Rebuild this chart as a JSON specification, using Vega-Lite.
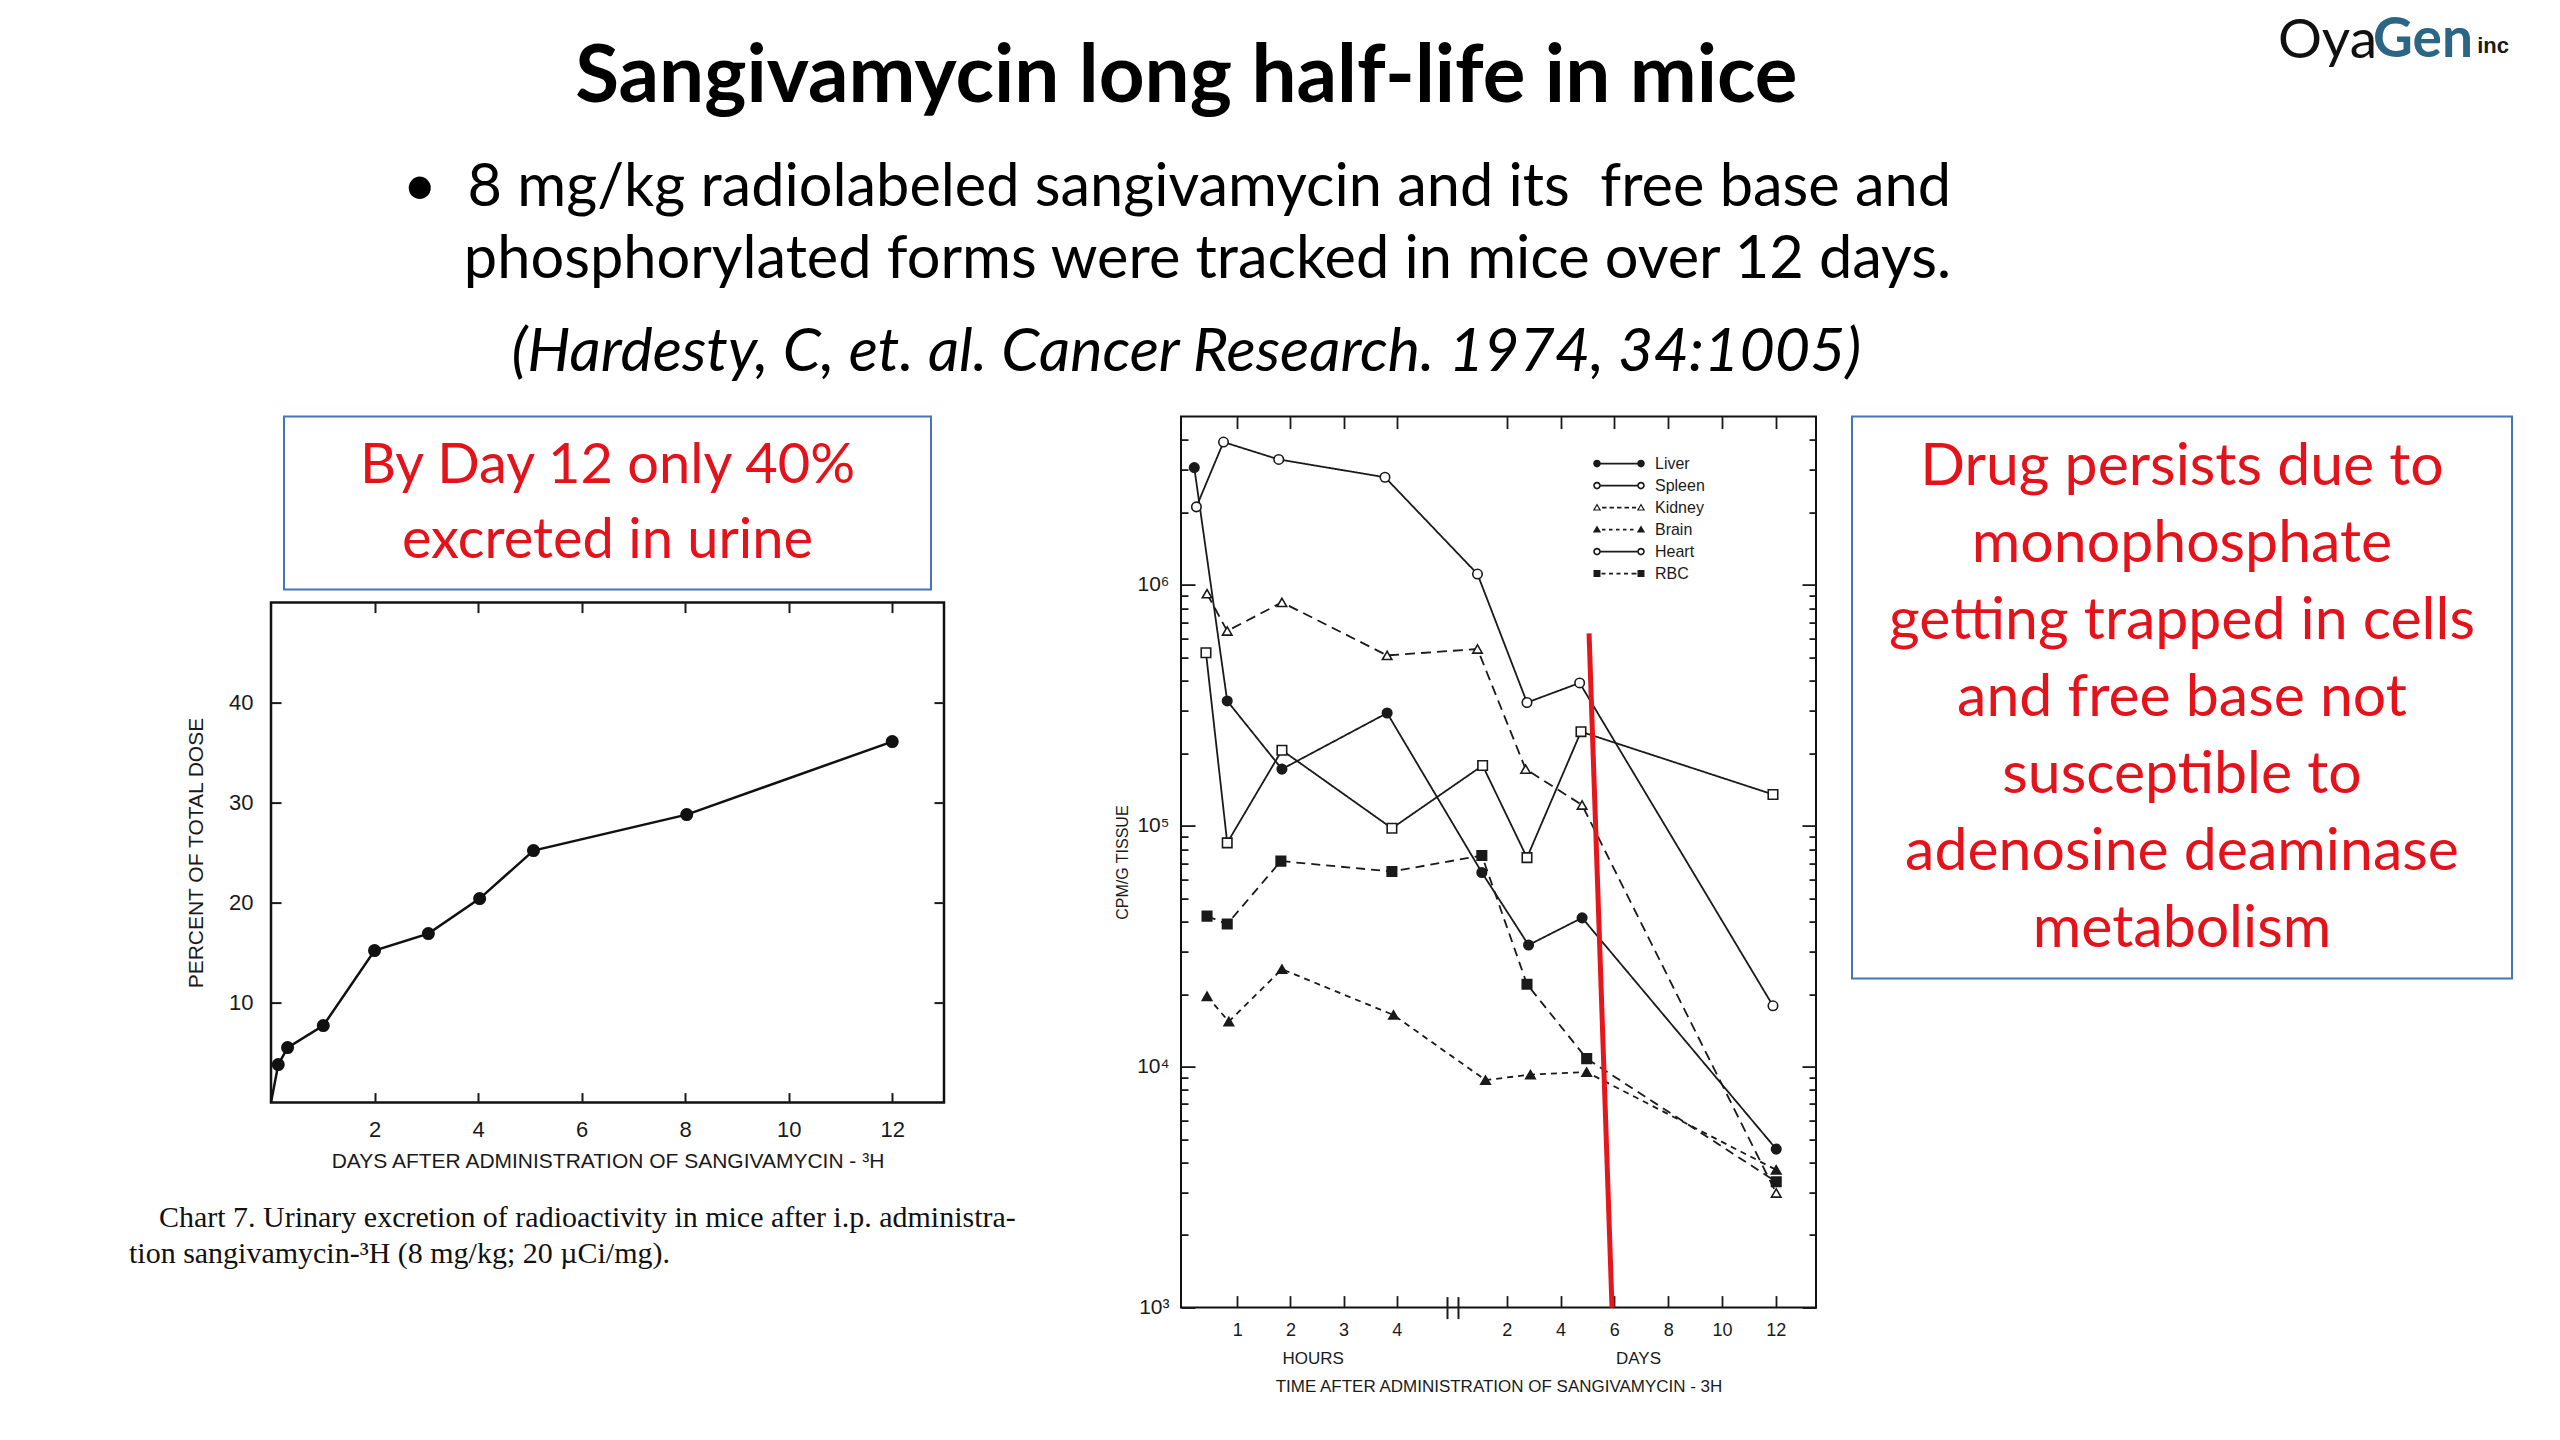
{
  "$schema": "https://vega.github.io/schema/vega-lite/v6.json",
  "background": "white",
  "padding": {"left": 127, "top": 12.6, "right": 30, "bottom": 30},
  "config": {
    "view": {"stroke": null},
    "font": "Lato",
    "axis": {"grid": false, "domain": false, "labelFont": "Liberation Sans", "titleFont": "Liberation Sans", "titleFontWeight": "normal", "labelColor": "#1a1a1a", "titleColor": "#1a1a1a", "tickColor": "#1a1a1a", "labelFlush": false, "labelOverlap": false},
    "title": {"font": "Lato", "color": "#000000", "fontWeight": "normal"}
  },
  "datasets": {
    "urine": [
      {"day": 0, "pct": 0},
      {"day": 0.14, "pct": 3.8},
      {"day": 0.32, "pct": 5.5},
      {"day": 1.01, "pct": 7.7},
      {"day": 2.0, "pct": 15.2},
      {"day": 3.04, "pct": 16.9},
      {"day": 4.03, "pct": 20.4},
      {"day": 5.07, "pct": 25.2},
      {"day": 8.03, "pct": 28.8},
      {"day": 12.0, "pct": 36.1}
    ],
    "tissue": [
      {"organ": "Liver", "hours": 0.19, "cpm": 3070000},
      {"organ": "Liver", "hours": 0.81, "cpm": 330000},
      {"organ": "Liver", "hours": 1.84, "cpm": 172000},
      {"organ": "Liver", "hours": 3.82, "cpm": 294000},
      {"organ": "Liver", "hours": 25.7, "cpm": 64000},
      {"organ": "Liver", "hours": 67.4, "cpm": 32000},
      {"organ": "Liver", "hours": 115.2, "cpm": 41500},
      {"organ": "Liver", "hours": 288.5, "cpm": 4550},
      {"organ": "Spleen", "hours": 0.23, "cpm": 2110000},
      {"organ": "Spleen", "hours": 0.74, "cpm": 3920000},
      {"organ": "Spleen", "hours": 1.78, "cpm": 3320000},
      {"organ": "Spleen", "hours": 3.78, "cpm": 2800000},
      {"organ": "Spleen", "hours": 21.8, "cpm": 1110000},
      {"organ": "Spleen", "hours": 66, "cpm": 325000},
      {"organ": "Spleen", "hours": 113, "cpm": 392000},
      {"organ": "Spleen", "hours": 285.6, "cpm": 17900},
      {"organ": "Kidney", "hours": 0.43, "cpm": 920000},
      {"organ": "Kidney", "hours": 0.81, "cpm": 644000},
      {"organ": "Kidney", "hours": 1.84, "cpm": 847000},
      {"organ": "Kidney", "hours": 3.82, "cpm": 510000},
      {"organ": "Kidney", "hours": 21.8, "cpm": 542000},
      {"organ": "Kidney", "hours": 64.8, "cpm": 172000},
      {"organ": "Kidney", "hours": 115.2, "cpm": 122000},
      {"organ": "Kidney", "hours": 288.5, "cpm": 2990},
      {"organ": "Brain", "hours": 0.43, "cpm": 19600},
      {"organ": "Brain", "hours": 0.84, "cpm": 15400},
      {"organ": "Brain", "hours": 1.84, "cpm": 25400},
      {"organ": "Brain", "hours": 3.94, "cpm": 16400},
      {"organ": "Brain", "hours": 29, "cpm": 8800},
      {"organ": "Brain", "hours": 69.1, "cpm": 9270},
      {"organ": "Brain", "hours": 119.3, "cpm": 9500},
      {"organ": "Brain", "hours": 288.5, "cpm": 3730},
      {"organ": "Heart", "hours": 0.41, "cpm": 523000},
      {"organ": "Heart", "hours": 0.81, "cpm": 85000},
      {"organ": "Heart", "hours": 1.84, "cpm": 206000},
      {"organ": "Heart", "hours": 3.91, "cpm": 97700},
      {"organ": "Heart", "hours": 26.4, "cpm": 178000},
      {"organ": "Heart", "hours": 66, "cpm": 73800},
      {"organ": "Heart", "hours": 114.2, "cpm": 246000},
      {"organ": "Heart", "hours": 285.6, "cpm": 135000},
      {"organ": "RBC", "hours": 0.43, "cpm": 42200},
      {"organ": "RBC", "hours": 0.81, "cpm": 39100},
      {"organ": "RBC", "hours": 1.82, "cpm": 71400},
      {"organ": "RBC", "hours": 3.91, "cpm": 64600},
      {"organ": "RBC", "hours": 25.7, "cpm": 75300},
      {"organ": "RBC", "hours": 66, "cpm": 22000},
      {"organ": "RBC", "hours": 119.3, "cpm": 10800},
      {"organ": "RBC", "hours": 288.5, "cpm": 3330}
    ],
    "redline": [
      {"h1": 121.4, "v1": 630000, "h2": 141.9, "v2": 1000}
    ]
  },
  "title": {"text": "inc", "orient": "top", "anchor": "end", "frame": "bounds", "dx": -4, "offset": -44.4, "fontSize": 22, "fontWeight": "bold", "font": "Liberation Sans", "color": "#1a1a1a"},
  "vconcat": [{
    "title": {"text": "Gen", "orient": "top", "anchor": "end", "frame": "bounds", "dx": -40, "offset": -55, "fontSize": 55, "fontWeight": "bold", "font": "Lato", "color": "#2b6784"},
    "vconcat": [{
      "title": {"text": "Oya", "orient": "top", "anchor": "end", "frame": "bounds", "dx": -136, "offset": -32.5, "fontSize": 55, "fontWeight": "normal", "font": "Lato", "color": "#111111"},
      "vconcat": [{
        "title": {"text": "Sangivamycin long half-life in mice", "orient": "top", "anchor": "middle", "frame": "bounds", "dx": -134, "offset": 39.4, "fontSize": 80, "fontWeight": "bold", "font": "Lato", "color": "#000000"},
        "vconcat": [{
          "title": {"text": ["•\u00a0\u00a08 mg/kg radiolabeled sangivamycin and its\u00a0 free base and", "phosphorylated forms were tracked in mice over 12 days."], "orient": "top", "anchor": "end", "align": "right", "frame": "bounds", "dx": -562, "offset": 31.5, "fontSize": 59.5, "lineHeight": 72, "font": "Lato", "color": "#000000"},
          "vconcat": [{
            "title": {"text": "(Hardesty, C, et. al. Cancer Research. 1974, 34:1005)", "orient": "top", "anchor": "middle", "frame": "bounds", "dx": -134, "offset": 30.5, "fontSize": 61, "fontStyle": "italic", "font": "Lato", "color": "#000000"},
            "hconcat": [
              {
                "vconcat": [
                  {
                    "width": 647,
                    "height": 173,
                    "view": {"stroke": "#4a72b8", "strokeWidth": 2},
                    "data": {"values": [{}]},
                    "mark": {"type": "text", "text": ["By Day 12 only 40%", "excreted in urine"], "font": "Lato", "fontSize": 56, "lineHeight": 75, "dy": -37.5, "color": "#e3121b", "align": "center", "baseline": "middle"}
                  },
                  {
                    "width": 673,
                    "height": 500,
                    "view": {"stroke": "#111111", "strokeWidth": 2.5},
                    "title": {"text": ["\u200b\u00a0\u00a0\u00a0\u00a0Chart 7. Urinary excretion of radioactivity in mice after i.p. administra-", "tion sangivamycin-³H (8 mg/kg; 20 µCi/mg)."], "orient": "bottom", "anchor": "start", "align": "left", "frame": "group", "dx": -142, "offset": 31, "font": "Liberation Serif", "fontSize": 30, "lineHeight": 36, "fontWeight": "normal", "color": "#111111"},
                    "data": {"name": "urine"},
                    "layer": [
                      {
                        "mark": {"type": "line", "color": "#111111", "strokeWidth": 2.5},
                        "encoding": {
                          "x": {"field": "day", "type": "quantitative", "scale": {"domain": [0, 13], "nice": false, "zero": false},
                                "axis": {"orient": "bottom", "values": [2, 4, 6, 8, 10, 12], "tickSize": -10, "tickWidth": 2, "labelFontSize": 22, "labelPadding": 27, "title": "DAYS AFTER ADMINISTRATION OF SANGIVAMYCIN - ³H", "titleFontSize": 21, "titlePadding": 10}},
                          "y": {"field": "pct", "type": "quantitative", "scale": {"domain": [0, 50], "nice": false},
                                "axis": {"orient": "left", "values": [10, 20, 30, 40], "tickSize": -10, "tickWidth": 2, "labelFontSize": 22, "labelPadding": 28, "title": "PERCENT OF TOTAL DOSE", "titleFontSize": 21, "titlePadding": 22}}
                        }
                      },
                      {
                        "transform": [{"filter": "datum.pct > 0"}],
                        "mark": {"type": "point", "filled": true, "color": "#111111", "size": 170, "opacity": 1},
                        "encoding": {
                          "x": {"field": "day", "type": "quantitative", "axis": {"orient": "top", "values": [2, 4, 6, 8, 10, 12], "tickSize": -10, "tickWidth": 2, "labels": false, "title": null}},
                          "y": {"field": "pct", "type": "quantitative", "axis": {"orient": "right", "values": [10, 20, 30, 40], "tickSize": -10, "tickWidth": 2, "labels": false, "title": null}}
                        }
                      }
                    ],
                    "resolve": {"axis": {"x": "independent", "y": "independent"}}
                  }
                ],
                "spacing": 13,
                "bounds": "flush",
                "center": true
              },
              {
                "hconcat": [
                  {
                    "width": 635,
                    "height": 891,
                    "view": {"stroke": "#111111", "strokeWidth": 2},
                    "layer": [
                      {
                        "data": {"name": "tissue"},
                        "mark": {"type": "line", "color": "#1a1a1a", "strokeWidth": 1.8},
                        "encoding": {
                          "x": {"field": "hours", "type": "quantitative",
                                "scale": {"type": "linear", "domain": [-0.06, 5.06, 12, 324], "range": [0, 272, 285.5, 635], "nice": false, "zero": false},
                                "axis": {"orient": "bottom", "values": [1, 2, 3, 4, 48, 96, 144, 192, 240, 288], "labelExpr": "datum.value < 24 ? datum.value : datum.value / 24", "tickSize": -12, "tickWidth": 1.8, "labelFontSize": 18, "labelPadding": 26, "title": null}},
                          "y": {"field": "cpm", "type": "quantitative",
                                "scale": {"type": "log", "domain": [1000, 5000000], "nice": false},
                                "axis": {"orient": "left", "values": [1000, 2000, 3000, 4000, 5000, 6000, 7000, 8000, 9000, 10000, 20000, 30000, 40000, 50000, 60000, 70000, 80000, 90000, 100000, 200000, 300000, 400000, 500000, 600000, 700000, 800000, 900000, 1000000, 2000000, 3000000, 4000000],
                                         "labelExpr": "datum.value == 1000 ? '10³' : datum.value == 10000 ? '10⁴' : datum.value == 100000 ? '10⁵' : datum.value == 1000000 ? '10⁶' : ''",
                                         "tickSize": {"condition": {"test": "indexof([1000, 10000, 100000, 1000000], datum.value) >= 0", "value": -14}, "value": -7},
                                         "tickWidth": 1.8, "labelFontSize": 21, "labelPadding": 26, "title": "CPM/G TISSUE", "titleFontSize": 16, "titlePadding": 6}},
                          "strokeDash": {"field": "organ", "type": "nominal", "scale": {"domain": ["Liver", "Spleen", "Kidney", "Brain", "Heart", "RBC"], "range": [[1, 0], [1, 0], [10, 6], [6, 5], [1, 0], [9, 6]]}, "legend": null}
                        }
                      },
                      {
                        "data": {"name": "tissue"},
                        "mark": {"type": "point", "stroke": "#1a1a1a", "strokeWidth": 1.6, "size": 90, "opacity": 1},
                        "encoding": {
                          "x": {"field": "hours", "type": "quantitative", "axis": {"orient": "top", "values": [1, 2, 3, 4, 48, 96, 144, 192, 240, 288], "tickSize": -12, "tickWidth": 1.8, "labels": false, "title": null}},
                          "y": {"field": "cpm", "type": "quantitative", "axis": {"orient": "right", "values": [1000, 2000, 3000, 4000, 5000, 6000, 7000, 8000, 9000, 10000, 20000, 30000, 40000, 50000, 60000, 70000, 80000, 90000, 100000, 200000, 300000, 400000, 500000, 600000, 700000, 800000, 900000, 1000000, 2000000, 3000000, 4000000],
                                "tickSize": {"condition": {"test": "indexof([1000, 10000, 100000, 1000000], datum.value) >= 0", "value": -14}, "value": -7}, "tickWidth": 1.8, "labels": false, "title": null}},
                          "shape": {"field": "organ", "type": "nominal", "scale": {"domain": ["Liver", "Spleen", "Kidney", "Brain", "Heart", "RBC"], "range": ["circle", "circle", "triangle-up", "triangle-up", "square", "square"]}, "legend": null},
                          "fill": {"field": "organ", "type": "nominal", "scale": {"domain": ["Liver", "Spleen", "Kidney", "Brain", "Heart", "RBC"], "range": ["#1a1a1a", "#ffffff", "#ffffff", "#1a1a1a", "#ffffff", "#1a1a1a"]}, "legend": null}
                        }
                      },
                      {
                        "data": {"name": "redline"},
                        "mark": {"type": "rule", "color": "#e5171c", "strokeWidth": 5},
                        "encoding": {
                          "x": {"field": "h1", "type": "quantitative", "axis": {"orient": "bottom", "values": [2.42, 165.1], "labelExpr": "datum.value < 24 ? 'HOURS' : 'DAYS'", "ticks": false, "labelPadding": 43, "labelFontSize": 17, "title": "TIME AFTER ADMINISTRATION OF SANGIVAMYCIN - 3H", "titleFontSize": 17, "titlePadding": 12}},
                          "x2": {"field": "h2"},
                          "y": {"field": "v1", "type": "quantitative", "axis": null},
                          "y2": {"field": "v2"}
                        }
                      },
                      {
                        "data": {"name": "tissue"},
                        "transform": [{"filter": "datum.cpm < 0"}],
                        "mark": {"type": "point", "filled": true, "color": "#1a1a1a", "strokeWidth": 0, "opacity": 1},
                        "encoding": {
                          "x": {"field": "hours", "type": "quantitative", "axis": {"orient": "bottom", "values": [4.95, 7.63], "tickSize": 11, "tickWidth": 2, "labels": false, "title": null}},
                          "y": {"field": "cpm", "type": "quantitative", "axis": null},
                          "shape": {"field": "organ", "type": "nominal",
                                    "scale": {"domain": ["Liver", "Spleen", "Kidney", "Brain", "Heart", "RBC"],
                                              "range": [
                                                "M-1.85,-0.08H1.85V0.08H-1.85ZM-2.58,0A0.38,0.38 0 1,1 -1.82,0A0.38,0.38 0 1,1 -2.58,0ZM1.82,0A0.38,0.38 0 1,1 2.58,0A0.38,0.38 0 1,1 1.82,0Z",
                                                "M-1.85,-0.08H1.85V0.08H-1.85ZM-2.58,0A0.38,0.38 0 1,1 -1.82,0A0.38,0.38 0 1,1 -2.58,0ZM-2.42,0A0.22,0.22 0 1,0 -1.98,0A0.22,0.22 0 1,0 -2.42,0ZM1.82,0A0.38,0.38 0 1,1 2.58,0A0.38,0.38 0 1,1 1.82,0ZM1.98,0A0.22,0.22 0 1,0 2.42,0A0.22,0.22 0 1,0 1.98,0Z",
                                                "M-1.7,-0.08H-1.25V0.08H-1.7ZM-0.95,-0.08H-0.5V0.08H-0.95ZM-0.2,-0.08H0.25V0.08H-0.2ZM0.55,-0.08H1.0V0.08H0.55ZM1.3,-0.08H1.7V0.08H1.3ZM-2.62,0.3L-2.2,-0.42L-1.78,0.3ZM-2.41,0.18L-1.99,0.18L-2.2,-0.18ZM1.78,0.3L2.2,-0.42L2.62,0.3ZM1.99,0.18L2.41,0.18L2.2,-0.18Z",
                                                "M-1.7,-0.08H-1.35V0.08H-1.7ZM-1.0,-0.08H-0.65V0.08H-1.0ZM-0.3,-0.08H0.05V0.08H-0.3ZM0.4,-0.08H0.75V0.08H0.4ZM1.1,-0.08H1.45V0.08H1.1ZM-2.62,0.3L-2.2,-0.42L-1.78,0.3ZM1.78,0.3L2.2,-0.42L2.62,0.3Z",
                                                "M-1.85,-0.08H1.85V0.08H-1.85ZM-2.58,0A0.38,0.38 0 1,1 -1.82,0A0.38,0.38 0 1,1 -2.58,0ZM-2.42,0A0.22,0.22 0 1,0 -1.98,0A0.22,0.22 0 1,0 -2.42,0ZM1.82,0A0.38,0.38 0 1,1 2.58,0A0.38,0.38 0 1,1 1.82,0ZM1.98,0A0.22,0.22 0 1,0 2.42,0A0.22,0.22 0 1,0 1.98,0Z",
                                                "M-1.75,-0.08H-1.35V0.08H-1.75ZM-1.0,-0.08H-0.6V0.08H-1.0ZM-0.25,-0.08H0.15V0.08H-0.25ZM0.5,-0.08H0.9V0.08H0.5ZM1.25,-0.08H1.75V0.08H1.25ZM-2.55,-0.35H-1.85V0.35H-2.55ZM1.85,-0.35H2.55V0.35H1.85Z"
                                              ]},
                                    "legend": {"orient": "none", "legendX": 428, "legendY": 37, "title": null, "symbolSize": 400, "labelOffset": 26, "labelFont": "Liberation Sans", "labelFontSize": 16, "labelColor": "#1a1a1a", "rowPadding": 4, "padding": 0, "symbolFillColor": "#1a1a1a", "symbolStrokeWidth": 0, "symbolOpacity": 1}}
                        }
                      },
                      {
                        "data": {"name": "tissue"},
                        "transform": [{"filter": "datum.cpm < 0"}],
                        "mark": {"type": "point", "opacity": 0},
                        "encoding": {
                          "x": {"field": "hours", "type": "quantitative", "axis": {"orient": "bottom", "values": [4.95, 7.63], "tickSize": -11, "tickWidth": 2, "labels": false, "title": null}},
                          "y": {"field": "cpm", "type": "quantitative", "axis": null}
                        }
                      }
                    ],
                    "resolve": {"scale": {"shape": "independent", "fill": "independent"}, "axis": {"x": "independent", "y": "independent"}}
                  },
                  {
                    "width": 660,
                    "height": 562,
                    "view": {"stroke": "#4a72b8", "strokeWidth": 2},
                    "data": {"values": [{}]},
                    "mark": {"type": "text", "text": ["Drug persists due to", "monophosphate", "getting trapped in cells", "and free base not", "susceptible to", "adenosine deaminase", "metabolism"], "font": "Lato", "fontSize": 59, "lineHeight": 77, "dy": -231, "color": "#e3121b", "align": "center", "baseline": "middle"}
                  }
                ],
                "spacing": 36,
                "bounds": "flush"
              }
            ],
            "spacing": 910,
            "bounds": "flush"
          }]
        }]
      }]
    }]
  }]
}
